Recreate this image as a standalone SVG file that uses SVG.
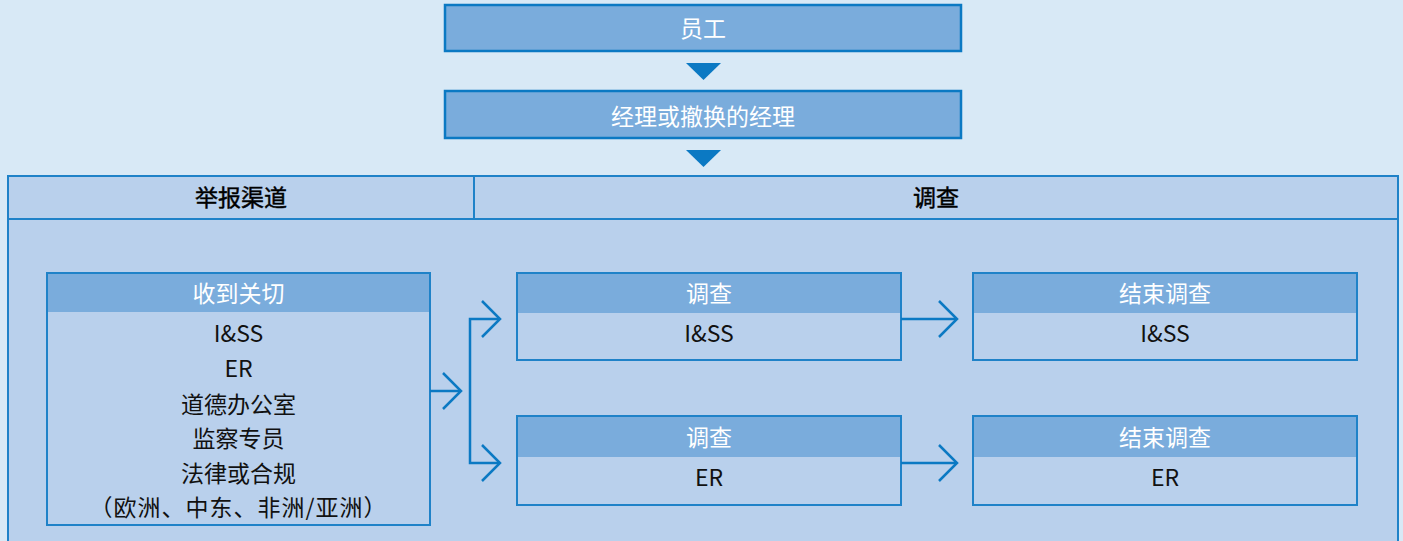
<svg xmlns="http://www.w3.org/2000/svg" width="1403" height="541" viewBox="0 0 1403 541">
<style>
.box{fill:#7aacdc;stroke:#0b79c3;stroke-width:2.5}
.hdr{fill:#7aacdc}
.body{fill:#b9d0ec;stroke:#1f82c8;stroke-width:2}
.w{fill:#ffffff;font-family:"Noto Sans CJK SC","Noto Sans",sans-serif;font-size:23px;text-anchor:middle}
.k{fill:#111111;font-family:"Noto Sans CJK SC","Noto Sans",sans-serif;font-size:23px;text-anchor:middle}
.h{fill:#000000;stroke:#000000;stroke-width:0.45}
.ln{fill:none;stroke:#0b79c3;stroke-width:2.5;stroke-linejoin:miter}
.tri{fill:#0b79c3}
</style>
<rect x="0" y="0" width="1403" height="541" fill="#d8e9f6"/>
<g id="employee">
<rect class="box" x="445" y="5" width="516" height="46"/>
<text class="w" x="703" y="37">员工</text>
</g>
<g id="manager">
<rect class="box" x="445" y="91" width="516" height="47"/>
<text class="w" x="703" y="124.5">经理或撤换的经理</text>
</g>
<g id="panel">
<rect x="8" y="176" width="1390" height="375" fill="#b9d0ec" stroke="#1f82c8" stroke-width="2"/>
<line x1="8" y1="219" x2="1398" y2="219" stroke="#1f82c8" stroke-width="2"/>
<line x1="474" y1="176" x2="474" y2="219" stroke="#1f82c8" stroke-width="2"/>
<text class="k h" x="241" y="205.5">举报渠道</text>
<text class="k h" x="936" y="205.5">调查</text>
</g>
<g id="received">
<rect class="body" x="47" y="273" width="383" height="252"/>
<rect class="hdr" x="48" y="274" width="381" height="38"/>
<text class="w" x="238.5" y="301.5">收到关切</text>
<text class="k" x="238.5" y="342">I&amp;SS</text>
<text class="k" x="238.5" y="377">ER</text>
<text class="k" x="238.5" y="412.5">道德办公室</text>
<text class="k" x="238.5" y="447">监察专员</text>
<text class="k" x="238.5" y="481.5">法律或合规</text>
<text class="k" x="238.5" y="516" letter-spacing="1">（欧洲、中东、非洲/亚洲）</text>
</g>
<g id="inv-iss">
<rect class="body" x="517" y="273" width="384" height="87"/>
<rect class="hdr" x="518" y="274" width="382" height="39"/>
<text class="w" x="709" y="301.5">调查</text>
<text class="k" x="709" y="342">I&amp;SS</text>
</g>
<g id="inv-er">
<rect class="body" x="517" y="416" width="384" height="89"/>
<rect class="hdr" x="518" y="417" width="382" height="40"/>
<text class="w" x="709" y="445.5">调查</text>
<text class="k" x="709" y="486">ER</text>
</g>
<g id="close-iss">
<rect class="body" x="973" y="273" width="384" height="87"/>
<rect class="hdr" x="974" y="274" width="382" height="39"/>
<text class="w" x="1165" y="301.5">结束调查</text>
<text class="k" x="1165" y="342">I&amp;SS</text>
</g>
<g id="close-er">
<rect class="body" x="973" y="416" width="384" height="89"/>
<rect class="hdr" x="974" y="417" width="382" height="40"/>
<text class="w" x="1165" y="445.5">结束调查</text>
<text class="k" x="1165" y="486">ER</text>
</g>
<g id="connectors">
<polygon class="tri" points="686,63 721,63 703.5,80"/>
<polygon class="tri" points="686,150 721,150 703.5,167"/>
<line class="ln" x1="430" y1="391" x2="461" y2="391"/>
<polyline class="ln" points="443,373 461,391 443,409"/>
<polyline class="ln" points="500,319 470,319 470,463 500,463"/>
<polyline class="ln" points="482,301 500,319 482,337"/>
<polyline class="ln" points="482,445 500,463 482,481"/>
<line class="ln" x1="901" y1="319" x2="957" y2="319"/>
<polyline class="ln" points="939,301 957,319 939,337"/>
<line class="ln" x1="901" y1="463" x2="957" y2="463"/>
<polyline class="ln" points="939,445 957,463 939,481"/>
</g>
</svg>
